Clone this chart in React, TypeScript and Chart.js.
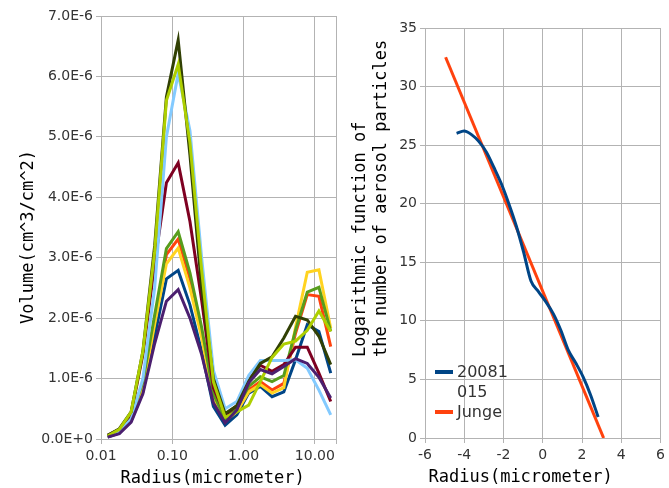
import React, { useEffect, useRef } from 'react';
import { Chart, registerables } from 'chart.js';
Chart.register(...registerables);

// ---------- Left chart data (volume size distribution) ----------
const radius = [0.0124, 0.0181, 0.0265, 0.0387, 0.0566, 0.0827, 0.121, 0.177, 0.258, 0.377, 0.551, 0.805, 1.18, 1.72, 2.51, 3.67, 5.36, 7.83, 11.4, 16.7];

// values in units of 1E-6 cm^3/cm^2
const volSeries1 = [0.03, 0.10, 0.30, 0.78, 1.70, 2.65, 2.79, 2.22, 1.45, 0.54, 0.23, 0.40, 0.76, 0.87, 0.70, 0.78, 1.31, 1.89, 1.78, 1.09];
const volSeries2 = [0.04, 0.11, 0.32, 0.85, 1.95, 3.05, 3.31, 2.65, 1.75, 0.70, 0.29, 0.48, 0.81, 0.95, 0.81, 0.92, 1.75, 2.39, 2.36, 1.53];
const volSeries3 = [0.04, 0.11, 0.33, 0.85, 1.90, 2.90, 3.16, 2.50, 1.68, 0.66, 0.30, 0.45, 0.78, 0.90, 0.76, 0.85, 1.85, 2.76, 2.80, 1.83];
const volSeries4 = [0.04, 0.12, 0.36, 0.95, 2.05, 3.15, 3.43, 2.75, 1.85, 0.75, 0.32, 0.52, 0.87, 1.03, 0.95, 1.05, 1.80, 2.43, 2.51, 1.78];
const volSeries5 = [0.06, 0.16, 0.42, 1.40, 2.90, 4.24, 4.57, 3.60, 2.30, 0.85, 0.40, 0.55, 1.00, 1.22, 1.12, 1.23, 1.52, 1.52, 1.09, 0.62];
const volSeries6 = [0.04, 0.12, 0.33, 1.00, 2.50, 5.00, 6.05, 5.10, 3.00, 1.14, 0.50, 0.62, 1.05, 1.30, 1.30, 1.30, 1.31, 1.17, 0.81, 0.40];
const volSeries7 = [0.06, 0.17, 0.45, 1.45, 3.20, 5.66, 6.60, 4.70, 2.50, 1.00, 0.42, 0.55, 0.95, 1.25, 1.36, 1.67, 2.03, 1.97, 1.70, 1.23];
const volSeries8 = [0.05, 0.16, 0.45, 1.45, 3.10, 5.60, 6.20, 4.90, 2.80, 0.95, 0.36, 0.45, 0.56, 0.95, 1.35, 1.57, 1.62, 1.80, 2.12, 1.78];
const volSeries9 = [0.03, 0.09, 0.28, 0.75, 1.58, 2.28, 2.47, 2.00, 1.40, 0.60, 0.27, 0.48, 0.93, 1.15, 1.08, 1.20, 1.33, 1.25, 1.02, 0.68];

const volSeriesList = [volSeries1, volSeries2, volSeries3, volSeries4, volSeries5, volSeries6, volSeries7, volSeries8, volSeries9];
const volColors = ['#004586', '#ff420e', '#ffd320', '#579d1c', '#7e0021', '#83caff', '#314004', '#aecf00', '#4b1f6f'];
const VOL_UNIT = 1e-6;

const leftTickValuesX = [0.01, 0.1, 1, 10];
const leftMinX = 0.01;
const leftMaxX = 19.8;
const leftMaxY = 7; // in 1E-6

// ---------- Right chart data ----------
const lnRadius = [-4.39, -4.01, -3.63, -3.25, -2.87, -2.49, -2.11, -1.73, -1.35, -0.98, -0.60, -0.22, 0.17, 0.54, 0.92, 1.30, 1.68, 2.06, 2.43, 2.82];
const logNumber = [26.0, 26.2, 25.9, 25.3, 24.4, 23.1, 21.7, 20.0, 18.1, 15.9, 13.4, 12.5, 11.6, 10.6, 9.2, 7.5, 6.4, 5.2, 3.7, 1.8];
const jungeX = [-4.95, 3.1];
const jungeY = [32.5, 0];
const rightLabels = ['20081015', 'Junge'];
const rightColors = ['#004586', '#ff420e'];

const GRID = '#b3b3b3';
const TICK_COLOR = '#333333';
const TICK_FONT = { family: 'DejaVu Sans', size: 14 };
const TITLE_FONT = '17px "DejaVu Sans Mono"';

type TextItem = { text: string; x: number; y: number; rotate?: boolean; font: string; color: string; baseline?: CanvasTextBaseline };

const textPlugin = (items: TextItem[]) => ({
  id: 'customText',
  afterDraw(chart: any) {
    const ctx = chart.ctx as CanvasRenderingContext2D;
    items.forEach((it) => {
      ctx.save();
      ctx.font = it.font;
      ctx.fillStyle = it.color;
      ctx.textAlign = 'left';
      ctx.textBaseline = it.baseline || 'alphabetic';
      ctx.translate(it.x, it.y);
      if (it.rotate) ctx.rotate(-Math.PI / 2);
      ctx.fillText(it.text, 0, 0);
      ctx.restore();
    });
  },
});

const legendPlugin = {
  id: 'wrappedLegend',
  afterDraw(chart: any) {
    const ctx = chart.ctx as CanvasRenderingContext2D;
    ctx.save();
    ctx.font = '16px "DejaVu Sans"';
    ctx.textAlign = 'left';
    ctx.textBaseline = 'middle';
    let y = 373;
    chart.data.datasets.forEach((ds: any) => {
      const lines: string[] = String(ds.label).match(/.{1,5}/g) || [];
      ctx.strokeStyle = ds.borderColor;
      ctx.lineWidth = 4;
      ctx.beginPath();
      ctx.moveTo(95, y - 1);
      ctx.lineTo(113, y - 1);
      ctx.stroke();
      ctx.fillStyle = TICK_COLOR;
      lines.forEach((ln, i) => ctx.fillText(ln, 117, y + i * 19.5));
      y += lines.length * 20;
    });
    ctx.restore();
  },
};

function LeftChart() {
  const ref = useRef<HTMLCanvasElement>(null);
  useEffect(() => {
    const datasets = volSeriesList.map((s, i) => ({
      label: 'Series ' + (i + 1),
      data: s.map((v, k) => ({ x: radius[k], y: v * VOL_UNIT })),
      borderColor: volColors[i],
      backgroundColor: volColors[i],
      borderWidth: 3,
      pointRadius: 0,
      tension: 0,
      fill: false,
      order: volSeriesList.length - i,
    }));
    const chart = new Chart(ref.current as HTMLCanvasElement, {
      type: 'line',
      data: { datasets },
      options: {
        responsive: false,
        animation: false,
        layout: { padding: { top: 16, right: 2, left: 0, bottom: 0 } },
        plugins: { legend: { display: false }, tooltip: { enabled: false } },
        scales: {
          x: {
            type: 'logarithmic',
            min: leftMinX,
            max: leftMaxX,
            afterBuildTicks: (s: any) => {
              s.ticks = [...leftTickValuesX, leftMaxX].map((v) => ({ value: v }));
            },
            afterFit: (s: any) => { s.height = 49; },
            ticks: {
              autoSkip: false,
              maxRotation: 0,
              padding: 4,
              color: TICK_COLOR,
              font: TICK_FONT,
              callback: (v: any) => (leftTickValuesX.includes(Number(v)) ? Number(v).toFixed(2) : ''),
            },
            grid: { color: GRID, tickLength: 5 },
            border: { color: GRID },
          },
          y: {
            type: 'linear',
            min: 0,
            max: leftMaxY * VOL_UNIT,
            afterFit: (s: any) => { s.width = 101; },
            ticks: {
              stepSize: VOL_UNIT,
              padding: 3,
              color: TICK_COLOR,
              font: TICK_FONT,
              callback: (v: any) => (Number(v) === 0 ? '0.0E+0' : (Number(v) / VOL_UNIT).toFixed(1) + 'E-6'),
            },
            grid: { color: GRID, tickLength: 5 },
            border: { color: GRID },
          },
        },
      },
      plugins: [
        textPlugin([
          { text: 'Radius(micrometer)', x: 120.5, y: 482.5, font: TITLE_FONT, color: '#000' },
          { text: 'Volume(cm^3/cm^2)', x: 33, y: 324, rotate: true, font: TITLE_FONT, color: '#000' },
        ]),
      ],
    } as any);
    return () => chart.destroy();
  }, []);
  return <canvas ref={ref} width={340} height={488} style={{ position: 'absolute', left: 0, top: 0, width: 340, height: 488 }} />;
}

function RightChart() {
  const ref = useRef<HTMLCanvasElement>(null);
  useEffect(() => {
    const chart = new Chart(ref.current as HTMLCanvasElement, {
      type: 'line',
      data: {
        datasets: [
          {
            label: rightLabels[0],
            data: lnRadius.map((x, i) => ({ x, y: logNumber[i] })),
            borderColor: rightColors[0],
            backgroundColor: rightColors[0],
            borderWidth: 3,
            pointRadius: 0,
            cubicInterpolationMode: 'monotone',
            fill: false,
          },
          {
            label: rightLabels[1],
            data: jungeX.map((x, i) => ({ x, y: jungeY[i] })),
            borderColor: rightColors[1],
            backgroundColor: rightColors[1],
            borderWidth: 3,
            pointRadius: 0,
            tension: 0,
            fill: false,
          },
        ],
      },
      options: {
        responsive: false,
        animation: false,
        layout: { padding: { top: 28, right: 5, left: 0, bottom: 0 } },
        plugins: { legend: { display: false }, tooltip: { enabled: false } },
        scales: {
          x: {
            type: 'linear',
            min: -6,
            max: 6,
            afterFit: (s: any) => { s.height = 50; },
            ticks: { stepSize: 2, maxRotation: 0, padding: 4, color: TICK_COLOR, font: TICK_FONT },
            grid: { color: GRID, tickLength: 5 },
            border: { color: GRID },
          },
          y: {
            type: 'linear',
            min: 0,
            max: 35,
            afterFit: (s: any) => { s.width = 85; },
            ticks: { stepSize: 5, padding: 3, color: TICK_COLOR, font: TICK_FONT },
            grid: { color: GRID, tickLength: 5 },
            border: { color: GRID },
          },
        },
      },
      plugins: [
        textPlugin([
          { text: 'Radius(micrometer)', x: 88.5, y: 482, font: TITLE_FONT, color: '#000' },
          { text: 'Logarithmic function of', x: 24.5, y: 357, rotate: true, font: TITLE_FONT, color: '#000' },
          { text: 'the number of aerosol particles', x: 46, y: 357, rotate: true, font: TITLE_FONT, color: '#000' },
        ]),
        legendPlugin,
      ],
    } as any);
    return () => chart.destroy();
  }, []);
  return <canvas ref={ref} width={329} height={488} style={{ position: 'absolute', left: 340, top: 0, width: 329, height: 488 }} />;
}

export default function App() {
  return (
    <div style={{ position: 'fixed', left: 0, top: 0, width: 669, height: 488, background: '#ffffff', overflow: 'hidden' }}>
      <LeftChart />
      <RightChart />
    </div>
  );
}
